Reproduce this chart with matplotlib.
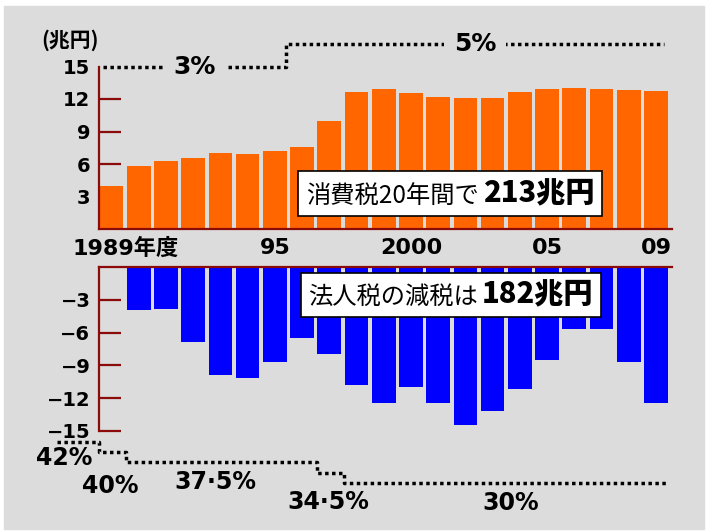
"""Consumption tax revenue vs corporate tax cuts, 1989-2009."""
import matplotlib
matplotlib.use("Agg")
import matplotlib.pyplot as plt
from matplotlib.offsetbox import TextArea, HPacker, AnnotationBbox
from matplotlib.patches import Rectangle
from matplotlib.transforms import blended_transform_factory

plt.rcParams['font.family'] = ['Noto Sans CJK JP', 'DejaVu Sans']
# wide latin digits, CJK glyphs fall back to Noto
WIDE = ['DejaVu Sans', 'Noto Sans CJK JP']

# --- data (兆円) ---
years = list(range(1989, 2010))
consumption_tax = [4.0, 5.8, 6.25, 6.6, 7.0, 6.9, 7.2, 7.6, 10.0, 12.65, 12.9,
                   12.55, 12.2, 12.1, 12.1, 12.65, 12.9, 13.0, 12.9, 12.85, 12.75]
corporate_cut = [0, -3.9, -3.8, -6.9, -9.85, -10.15, -8.65, -6.45, -7.95, -10.85,
                 -12.5, -10.95, -12.5, -14.5, -13.15, -11.15, -8.5, -5.7, -5.7,
                 -8.65, -12.5]
year_labels = {0: '1989年度', 6: '95', 11: '2000', 16: '05', 20: '09'}

# tax rate steps (start positions in year index, last value is the end)
consumption_rates = ['3%', '5%']
consumption_steps = [-0.3, 6.4, 20.3]
corporate_rates = ['42%', '40%', '37・5%', '34・5%', '30%']
corporate_steps = [-2.0, -0.45, 0.55, 7.55, 8.55, 20.4]
corporate_label_pos = [(-1.75, -17.55), (-0.05, -20.05), (3.8, -19.75),
                       (7.95, -21.5), (14.65, -21.65)]

BG = '#dcdcdc'
ORANGE = '#ff6600'
BLUE = '#0000ff'
AXIS = '#8b0a0a'
DOTS = (0, (1, 1))

fig = plt.figure(figsize=(7.09, 5.32), dpi=100)
fig.patches.append(Rectangle((4 / 709, 1 - 529 / 532), 700 / 709, 523 / 532,
                             transform=fig.transFigure, color=BG, zorder=-1))

left, width = 98.7 / 709, (672 - 98.7) / 709
ax_top = fig.add_axes([left, 1 - 229 / 532, width, (229 - 66.5) / 532])
ax_bot = fig.add_axes([left, 1 - 430.7 / 532, width, (430.7 - 267.3) / 532])

idx = list(range(len(years)))
for ax in (ax_top, ax_bot):
    ax.set_facecolor('none')
    ax.set_xlim(-0.47, 20.59)
    ax.spines['right'].set_visible(False)
    ax.spines['left'].set_color(AXIS)
    ax.spines['left'].set_linewidth(1.6)
    ax.set_xticks([])
    ax.tick_params(axis='y', direction='in', length=16, width=1.6, color=AXIS,
                   pad=6, labelsize=14)
    ax.set_axisbelow(True)

# top panel: consumption tax
ax_top.bar(idx, consumption_tax, width=0.87, color=ORANGE, zorder=1)
ax_top.set_ylim(0, 15)
ax_top.spines['top'].set_visible(False)
ax_top.spines['bottom'].set_color(AXIS)
ax_top.spines['bottom'].set_linewidth(1.6)
ax_top.set_yticks([3, 6, 9, 12, 15])
ax_top.set_yticklabels(['3', '6', '9', '12', '15'], fontweight='bold',
                       family=WIDE)
ax_top.yaxis.get_major_ticks()[-1].tick1line.set_visible(False)

for i, lab in year_labels.items():
    ha, dx = ('left', -1.45) if i == 0 else ('center', 0)
    ax_top.annotate(lab, xy=(i + dx, 0), xycoords=('data', 'axes fraction'),
                    xytext=(0, -14), textcoords='offset points', ha=ha,
                    va='center', fontsize=16, fontweight='bold', family=WIDE)

ax_top.text(-0.47, 1.16, '(兆円)', transform=blended_transform_factory(
    ax_top.transData, ax_top.transAxes), ha='right', va='center',
    fontsize=15, fontweight='bold')

levels = [15 + k * 2.05 for k in range(len(consumption_rates))]
ax_top.plot(consumption_steps, levels + levels[-1:], drawstyle='steps-post',
            color='black', lw=2.5, linestyle=DOTS, clip_on=False)
for k, rate in enumerate(consumption_rates):
    mid = (consumption_steps[k] + consumption_steps[k + 1]) / 2
    ax_top.text(mid, levels[k], rate, ha='center', va='center', fontsize=18,
                fontweight='bold', family=WIDE, clip_on=False,
                bbox=dict(boxstyle='square,pad=0.4', fc=BG, ec='none'))

# bottom panel: corporate tax cuts
ax_bot.bar(idx, corporate_cut, width=0.87, color=BLUE, zorder=1)
ax_bot.set_ylim(-15, 0)
ax_bot.spines['bottom'].set_visible(False)
ax_bot.spines['top'].set_color(AXIS)
ax_bot.spines['top'].set_linewidth(1.6)
ax_bot.set_yticks([-3, -6, -9, -12, -15])
ax_bot.set_yticklabels(['−3', '−6', '−9', '−12', '−15'], fontweight='bold',
                       family=WIDE)

levels = [-16 - k * 0.95 for k in range(len(corporate_rates))]
ax_bot.plot(corporate_steps, levels + levels[-1:], drawstyle='steps-post',
            color='black', lw=2.5, linestyle=DOTS, clip_on=False)
for rate, (x, y) in zip(corporate_rates, corporate_label_pos):
    ax_bot.text(x, y, rate.replace('・', '·'), ha='center', va='center',
                fontsize=17, fontweight='bold', family=WIDE, clip_on=False)


def label_box(xy, normal, strong):
    parts = HPacker(children=[
        TextArea(normal, textprops=dict(fontsize=17.5)),
        TextArea(strong, textprops=dict(fontsize=21, fontweight='black')),
    ], align='baseline', pad=0, sep=3)
    ab = AnnotationBbox(parts, xy, xycoords='figure fraction', frameon=True,
                        pad=0.55, bboxprops=dict(fc='white', ec='black', lw=1.2))
    fig.add_artist(ab)


label_box((450 / 709, 1 - 193.8 / 532), '消費税20年間で', '213兆円')
label_box((451 / 709, 1 - 295 / 532), '法人税の減税は', '182兆円')

fig.savefig('out.png', dpi=100, facecolor='white')
